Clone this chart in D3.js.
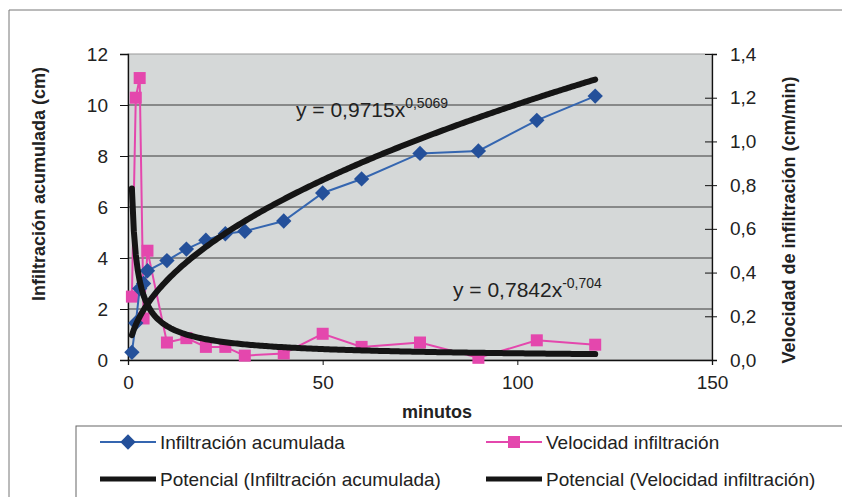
<!DOCTYPE html>
<html>
<head>
<meta charset="utf-8">
<script src="https://cdn.jsdelivr.net/npm/d3@7"></script>
<style>
body { margin: 0; background: #fff; }
text { font-family: "Liberation Sans", Arial, sans-serif; fill: #222; }
</style>
</head>
<body>
<svg id="chart"></svg>
<script>
var width = 842,
height = 497;

// minutos
const tiempos = [1, 2, 3, 4, 5, 10, 15, 20, 25, 30, 40, 50, 60, 75, 90, 105, 120];
// infiltracion acumulada (cm)
const acumulada = [0.3, 1.45, 2.8, 3.0, 3.5, 3.9, 4.35, 4.7, 4.95, 5.05, 5.45, 6.55, 7.1, 8.1, 8.2, 9.4, 10.35];
// velocidad de infiltracion (cm/min)
const velocidad = [0.29, 1.2, 1.29, 0.19, 0.5, 0.08, 0.1, 0.06, 0.06, 0.02, 0.03, 0.12, 0.06, 0.08, 0.01, 0.09, 0.07];

// coeficientes de las lineas de tendencia (potencial)
const potAcum = { a: 0.9715, b: 0.5069 };
const potVel = { a: 0.7842, b: -0.704 };

const xTicks = [0, 50, 100, 150];
const yLeftTicks = [0, 2, 4, 6, 8, 10, 12];
const yRightTicks = [0, 0.2, 0.4, 0.6, 0.8, 1.0, 1.2, 1.4];

const svg = d3.select("#chart")
.attr("width", width)
.attr("height", height);

const plot = { left: 128, right: 712, top: 54, bottom: 360 };

var x = d3.scaleLinear().domain([0, 150]).range([plot.left, plot.right]);
var yL = d3.scaleLinear().domain([0, 12]).range([plot.bottom, plot.top]);
var yR = d3.scaleLinear().domain([0, 1.4]).range([plot.bottom, plot.top]);

const fmt = d3.format(".1f");
const comma = (d) => fmt(d).replace(".", ",");

// marco exterior
svg.append("path")
.attr("d", "M9," + height + "V10H" + width)
.attr("fill", "none")
.attr("stroke", "#777")
.attr("stroke-width", 1);

// fondo del area de trazado
svg.append("rect")
.attr("x", plot.left).attr("y", plot.top)
.attr("width", plot.right - plot.left).attr("height", plot.bottom - plot.top)
.attr("fill", "#d5d8d8")
.attr("stroke", "#999")
.attr("stroke-width", 1);

// lineas de division
svg.append("g")
.selectAll("line")
.data(yLeftTicks.filter((d) => d > 0 && d < 12))
.enter().append("line")
.attr("x1", plot.left).attr("x2", plot.right)
.attr("y1", (d) => yL(d)).attr("y2", (d) => yL(d))
.attr("stroke", "#3a3a3a")
.attr("stroke-width", 1);

// ejes
var axisLeft = svg.append("g")
.attr("transform", "translate(" + plot.left + ",0)")
.call(d3.axisLeft(yL).tickValues(yLeftTicks).tickSize(8).tickPadding(12));

var axisRight = svg.append("g")
.attr("transform", "translate(" + plot.right + ",0)")
.call(d3.axisRight(yR).tickValues(yRightTicks).tickFormat(comma).tickSize(5).tickPadding(13));
axisRight.selectAll(".tick line").attr("x1", -7);

var axisBottom = svg.append("g")
.attr("transform", "translate(0," + plot.bottom + ")")
.call(d3.axisBottom(x).tickValues(xTicks).tickSize(5).tickPadding(11));

[axisLeft, axisRight, axisBottom].forEach((g) => {
    g.select(".domain").attr("stroke", "#111").attr("stroke-width", 1.3);
    g.selectAll(".tick line").attr("stroke", "#111");
    g.selectAll(".tick text")
        .style("font-family", "'Liberation Sans', Arial, sans-serif")
        .style("font-size", "19px")
        .attr("fill", "#222");
});

// titulos de ejes
svg.append("text")
.attr("transform", "translate(45,184) rotate(-90)")
.attr("text-anchor", "middle")
.style("font-size", "18px")
.style("font-weight", "bold")
.text("Infiltración acumulada (cm)");

svg.append("text")
.attr("transform", "translate(795,220) rotate(-90)")
.attr("text-anchor", "middle")
.style("font-size", "18px")
.style("font-weight", "bold")
.text("Velocidad de infiltración (cm/min)");

svg.append("text")
.attr("x", 437)
.attr("y", 418)
.attr("text-anchor", "middle")
.style("font-size", "18px")
.style("font-weight", "bold")
.text("minutos");

// series
const acumData = tiempos.map((t, i) => ({ t: t, v: acumulada[i] }));
const velData = tiempos.map((t, i) => ({ t: t, v: velocidad[i] }));

const lineL = d3.line().x((d) => x(d.t)).y((d) => yL(d.v));
const lineR = d3.line().x((d) => x(d.t)).y((d) => yR(d.v));

const pink = "#e447ad";
const blue = "#3566b0";

svg.append("path")
.datum(velData)
.attr("d", lineR)
.attr("fill", "none")
.attr("stroke", pink)
.attr("stroke-width", 2);

svg.append("g")
.selectAll("rect")
.data(velData)
.enter().append("rect")
.attr("x", (d) => x(d.t) - 6)
.attr("y", (d) => yR(d.v) - 6)
.attr("width", 12).attr("height", 12)
.attr("fill", pink);

svg.append("path")
.datum(acumData)
.attr("d", lineL)
.attr("fill", "none")
.attr("stroke", blue)
.attr("stroke-width", 2);

const diamond = d3.symbol().type(d3.symbolDiamond2).size(150);

svg.append("g")
.selectAll("path")
.data(acumData)
.enter().append("path")
.attr("d", diamond)
.attr("transform", (d) => "translate(" + x(d.t) + "," + yL(d.v) + ")")
.attr("fill", "#24509a");

// lineas de tendencia potencial
const muestras = d3.range(1, 120.5, 0.5);
svg.append("path")
.datum(muestras)
.attr("d", d3.line().x((t) => x(t)).y((t) => yL(potAcum.a * Math.pow(t, potAcum.b))))
.attr("fill", "none")
.attr("stroke", "#151515")
.attr("stroke-width", 6)
.attr("stroke-linecap", "round");

svg.append("path")
.datum(muestras)
.attr("d", d3.line().x((t) => x(t)).y((t) => yR(potVel.a * Math.pow(t, potVel.b))))
.attr("fill", "none")
.attr("stroke", "#151515")
.attr("stroke-width", 6)
.attr("stroke-linecap", "round");

// ecuaciones
function ecuacion(px, py, base, exp) {
    var t = svg.append("text")
        .attr("x", px).attr("y", py)
        .style("font-size", "21px");
    t.append("tspan").text(base);
    t.append("tspan").attr("dy", -9).style("font-size", "14px").text(exp);
}
ecuacion(296, 117, "y = 0,9715x", "0,5069");
ecuacion(453, 297, "y = 0,7842x", "-0,704");

// leyenda
const legend = svg.append("g");
legend.append("rect")
.attr("x", 76).attr("y", 426)
.attr("width", 780).attr("height", 90)
.attr("fill", "#fff")
.attr("stroke", "#666")
.attr("stroke-width", 1);

const items = [
    { label: "Infiltración acumulada", x: 100, y: 442, kind: "blue" },
    { label: "Velocidad infiltración", x: 486, y: 442, kind: "pink" },
    { label: "Potencial (Infiltración acumulada)", x: 100, y: 479, kind: "trend" },
    { label: "Potencial (Velocidad infiltración)", x: 486, y: 479, kind: "trend" }
];

items.forEach((it) => {
    var g = legend.append("g").attr("transform", "translate(" + it.x + "," + it.y + ")");
    if (it.kind === "trend") {
        g.append("line").attr("x1", 0).attr("x2", 56)
            .attr("stroke", "#151515").attr("stroke-width", 5);
    } else {
        var c = it.kind === "blue" ? blue : pink;
        g.append("line").attr("x1", 0).attr("x2", 56)
            .attr("stroke", c).attr("stroke-width", 2);
        if (it.kind === "blue") {
            g.append("path").attr("d", diamond).attr("transform", "translate(28,0)").attr("fill", "#24509a");
        } else {
            g.append("rect").attr("x", 22).attr("y", -6).attr("width", 12).attr("height", 12).attr("fill", pink);
        }
    }
    g.append("text")
        .attr("x", 60).attr("y", 7)
        .style("font-size", "19px")
        .text(it.label);
});
</script>
</body>
</html>
